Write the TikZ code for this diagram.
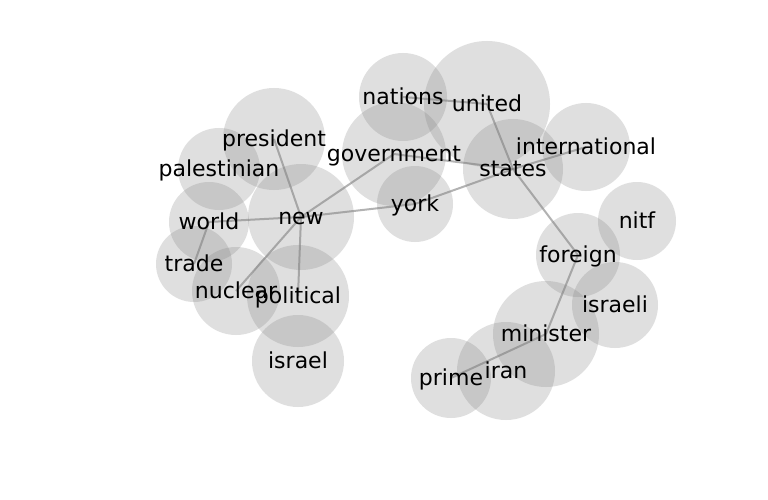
\documentclass[tikz,border=0pt]{standalone}
\usepackage{fontspec}
\newfontfamily\wordfont{DejaVu Sans}
\begin{document}
\begin{tikzpicture}[x=1pt,y=-1pt,
  bubble/.style={fill=gray, fill opacity=0.25},
  link/.style={draw=gray, draw opacity=0.6, line width=2pt},
  word/.style={font=\wordfont\fontsize{22}{26}\selectfont, inner sep=0pt, text height=17pt, text depth=1.5pt, anchor=center}]
\fill[white] (0,0) rectangle (768,500);
\useasboundingbox (0,0) rectangle (768,500);
% node centres
\coordinate (president) at (274,139);
\coordinate (palestinian) at (219,169);
\coordinate (world) at (209,222);
\coordinate (trade) at (194,264);
\coordinate (new) at (301,217);
\coordinate (nuclear) at (236,291);
\coordinate (political) at (298,296);
\coordinate (israel) at (298,361);
\coordinate (nations) at (403,97);
\coordinate (united) at (487,104);
\coordinate (government) at (394,154);
\coordinate (york) at (415,204);
\coordinate (states) at (513,169);
\coordinate (international) at (586,147);
\coordinate (nitf) at (637,221);
\coordinate (foreign) at (578,255);
\coordinate (israeli) at (615,305);
\coordinate (minister) at (546,334);
\coordinate (iran) at (506,371);
\coordinate (prime) at (451,378);
% bubbles
\fill[bubble] (president) circle[radius=51pt];
\fill[bubble] (palestinian) circle[radius=41pt];
\fill[bubble] (world) circle[radius=40pt];
\fill[bubble] (trade) circle[radius=38pt];
\fill[bubble] (new) circle[radius=53pt];
\fill[bubble] (nuclear) circle[radius=44pt];
\fill[bubble] (political) circle[radius=51pt];
\fill[bubble] (israel) circle[radius=46pt];
\fill[bubble] (nations) circle[radius=44pt];
\fill[bubble] (united) circle[radius=63pt];
\fill[bubble] (government) circle[radius=52pt];
\fill[bubble] (york) circle[radius=38pt];
\fill[bubble] (states) circle[radius=50pt];
\fill[bubble] (international) circle[radius=44pt];
\fill[bubble] (nitf) circle[radius=39pt];
\fill[bubble] (foreign) circle[radius=42pt];
\fill[bubble] (israeli) circle[radius=43pt];
\fill[bubble] (minister) circle[radius=53pt];
\fill[bubble] (iran) circle[radius=49pt];
\fill[bubble] (prime) circle[radius=40pt];
% links
\draw[link] (new) -- (president);
\draw[link] (new) -- (government);
\draw[link] (new) -- (york);
\draw[link] (new) -- (world);
\draw[link] (new) -- (nuclear);
\draw[link] (new) -- (political);
\draw[link] (world) -- (trade);
\draw[link] (york) -- (states);
\draw[link] (government) -- (states);
\draw[link] (nations) -- (united);
\draw[link] (united) -- (states);
\draw[link] (states) -- (international);
\draw[link] (states) -- (foreign);
\draw[link] (foreign) -- (minister);
\draw[link] (minister) -- (prime);
% labels
\node[word] (lpresident) at (president) {president};
\node[word] (lpalestinian) at (palestinian) {palestinian};
\node[word] (lworld) at (world) {world};
\node[word] (ltrade) at (trade) {trade};
\node[word] (lnew) at (new) {new};
\node[word] (lnuclear) at (nuclear) {nuclear};
\node[word] (lpolitical) at (political) {political};
\node[word] (lisrael) at (israel) {israel};
\node[word] (lnations) at (nations) {nations};
\node[word] (lunited) at (united) {united};
\node[word] (lgovernment) at (government) {government};
\node[word] (lyork) at (york) {york};
\node[word] (lstates) at (states) {states};
\node[word] (linternational) at (international) {international};
\node[word] (lnitf) at (nitf) {nitf};
\node[word] (lforeign) at (foreign) {foreign};
\node[word] (lisraeli) at (israeli) {israeli};
\node[word] (lminister) at (minister) {minister};
\node[word] (liran) at (iran) {iran};
\node[word] (lprime) at (prime) {prime};
\end{tikzpicture}
\end{document}
